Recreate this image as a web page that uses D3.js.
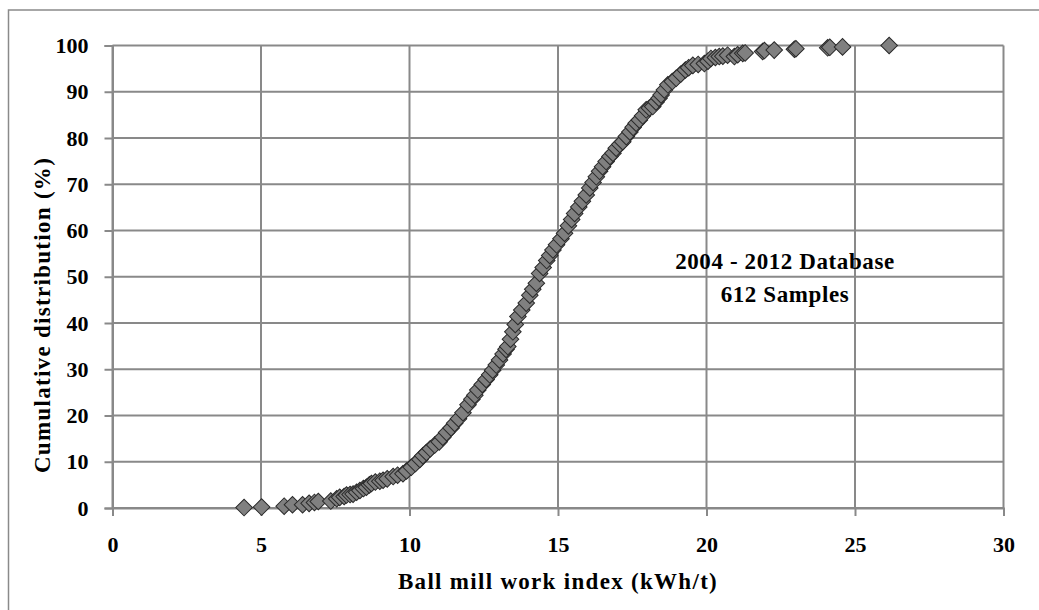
<!DOCTYPE html>
<html>
<head>
<meta charset="UTF-8">
<title>Ball mill work index cumulative distribution</title>
<script src="https://cdnjs.cloudflare.com/ajax/libs/d3/7.9.0/d3.min.js"></script>
<style>
    body { margin: 0; background: #fff; }
    svg { display: block; }
    text { font-family: "Liberation Serif", "DejaVu Serif", serif; font-weight: bold; fill: #000; }
</style>
</head>
<body>
<div id="chart"></div>
<script>
// values (work index kWh/t, cumulative %)
const workIndex = [
    4.43, 5.02, 5.78, 6.06, 6.40, 6.62, 6.80, 6.93, 7.35, 7.55,
    7.65, 7.80, 7.88, 8.00, 8.10, 8.22, 8.33, 8.45, 8.55, 8.65,
    8.72, 8.85, 9.00, 9.11, 9.25, 9.45, 9.60, 9.78, 9.90, 10.06,
    10.20, 10.35, 10.45, 10.57, 10.70, 10.85, 11.00, 11.12, 11.25, 11.40,
    11.52, 11.65, 11.80, 11.97, 12.10, 12.20, 12.30, 12.45, 12.58, 12.70,
    12.80, 12.92, 13.03, 13.15, 13.25, 13.31, 13.40, 13.48, 13.56, 13.65,
    13.78, 13.93, 14.05, 14.15, 14.27, 14.38, 14.50, 14.62, 14.72, 14.83,
    14.95, 15.10, 15.22, 15.35, 15.46, 15.56, 15.70, 15.82, 15.95, 16.07,
    16.18, 16.29, 16.40, 16.50, 16.62, 16.75, 16.85, 16.96, 17.08, 17.18,
    17.30, 17.42, 17.53, 17.63, 17.74, 17.85, 17.97, 18.08, 18.19, 18.30,
    18.40, 18.47, 18.58, 18.70, 18.85, 18.98, 19.13, 19.29, 19.40, 19.54,
    19.72, 19.93, 20.05, 20.15, 20.30, 20.43, 20.55, 20.71, 20.94, 21.05,
    21.22, 21.30, 21.89, 21.95, 22.28, 22.96, 23.01, 24.08, 24.15, 24.58,
    26.15
];
const cumulative = [
    0.1, 0.2, 0.4, 0.7, 0.7, 1.0, 1.2, 1.4, 1.5, 2.0,
    2.3, 2.5, 2.8, 2.9, 3.0, 3.4, 3.8, 4.2, 4.5, 5.0,
    5.3, 5.6, 5.8, 6.0, 6.3, 6.8, 7.1, 7.4, 8.0, 8.8,
    9.6, 10.5, 11.3, 12.0, 12.8, 13.6, 14.3, 15.3, 16.3, 17.3,
    18.3, 19.3, 20.6, 22.3, 23.5, 24.4, 25.5, 26.7, 27.8, 28.8,
    29.8, 30.9, 32.0, 33.3, 34.3, 34.9, 36.5, 38.1, 39.7, 41.4,
    42.8, 44.3, 46.0, 47.3, 48.6, 50.7, 52.0, 53.5, 54.6, 55.8,
    56.9, 58.2, 59.4, 61.0, 62.4, 63.7, 65.1, 66.3, 67.7, 69.2,
    70.4, 71.6, 72.8, 73.8, 74.9, 76.0, 76.7, 77.8, 78.6, 79.2,
    80.3, 81.3, 82.3, 83.2, 83.9, 84.8, 86.1, 86.5, 86.8, 87.8,
    88.6, 89.3, 90.4, 91.5, 92.2, 92.9, 93.8, 94.7, 95.2, 95.7,
    95.9, 96.1, 96.6, 97.2, 97.4, 97.6, 97.7, 97.9, 97.6, 98.0,
    98.3, 98.4, 98.7, 98.9, 99.0, 99.2, 99.3, 99.5, 99.6, 99.7,
    100.0
];
const xTicks = [0, 5, 10, 15, 20, 25, 30];
const yTicks = [0, 10, 20, 30, 40, 50, 60, 70, 80, 90, 100];
const xTitle = "Ball mill work index (kWh/t)";
const yTitle = "Cumulative distribution (%)";
const noteLines = ["2004 - 2012 Database", "612 Samples"];

const W = 1039, H = 610;
const plot = {left: 112.5, right: 1003.5, top: 45.5, bottom: 508};
const gridColor = "#898989";

const svg = d3.select("#chart").append("svg")
    .attr("width", W)
    .attr("height", H);

// outer chart frame
svg.append("rect")
    .attr("x", 8.5).attr("y", 10)
    .attr("width", W + 10).attr("height", H + 10)
    .attr("fill", "none")
    .attr("stroke", "#8a8a8a")
    .attr("stroke-width", 1.5);

const x = d3.scaleLinear().domain([0, 30]).range([plot.left, plot.right]);
const y = d3.scaleLinear().domain([0, 100]).range([plot.bottom, plot.top]);

// gridlines
svg.append("g")
    .selectAll("line")
    .data(yTicks)
    .join("line")
        .attr("x1", plot.left).attr("x2", plot.right)
        .attr("y1", d => y(d)).attr("y2", d => y(d))
        .attr("stroke", gridColor).attr("stroke-width", 2);

svg.append("g")
    .selectAll("line")
    .data(xTicks)
    .join("line")
        .attr("x1", d => x(d)).attr("x2", d => x(d))
        .attr("y1", plot.top).attr("y2", plot.bottom)
        .attr("stroke", gridColor).attr("stroke-width", 2);

// axes (outside ticks, labels)
const xAxis = d3.axisBottom(x).tickValues(xTicks).tickSize(8).tickPadding(20).tickFormat(d3.format("d"));
const yAxis = d3.axisLeft(y).tickValues(yTicks).tickSize(8).tickPadding(16).tickFormat(d3.format("d"));

const gx = svg.append("g")
    .attr("transform", `translate(0,${plot.bottom})`)
    .call(xAxis);
const gy = svg.append("g")
    .attr("transform", `translate(${plot.left},0)`)
    .call(yAxis);

[gx, gy].forEach(g => {
    g.select(".domain").attr("stroke", gridColor).attr("stroke-width", 2);
    g.selectAll(".tick line").attr("stroke", gridColor).attr("stroke-width", 2);
    g.selectAll(".tick text")
        .attr("font-family", "Liberation Serif, DejaVu Serif, serif")
        .attr("font-weight", "bold")
        .attr("font-size", 22)
        .attr("fill", "#000");
});
gx.selectAll(".tick text").attr("dy", "0.71em");

// axis titles
svg.append("text")
    .attr("x", (plot.left + plot.right) / 2)
    .attr("y", 589)
    .attr("text-anchor", "middle")
    .attr("font-size", 23)
    .attr("letter-spacing", 1.3)
    .text(xTitle);

svg.append("text")
    .attr("transform", "translate(50,315) rotate(-90)")
    .attr("text-anchor", "middle")
    .attr("font-size", 23)
    .attr("letter-spacing", 1.3)
    .text(yTitle);

// annotation
svg.append("g")
    .selectAll("text")
    .data(noteLines)
    .join("text")
        .attr("x", 785)
        .attr("y", (d, i) => 269 + i * 32.5)
        .attr("text-anchor", "middle")
        .attr("font-size", 23)
        .attr("letter-spacing", 0.6)
        .text(d => d);

// scatter markers (diamonds)
const pts = workIndex.map((v, i) => ({x: v, y: cumulative[i]}));
const diamond = d3.symbol().type(d3.symbolSquare).size(138);

svg.append("g")
    .selectAll("path")
    .data(pts)
    .join("path")
        .attr("d", diamond)
        .attr("transform", d => `translate(${x(d.x)},${y(d.y)}) rotate(45)`)
        .attr("fill", "#808080")
        .attr("stroke", "#2a2a2a")
        .attr("stroke-width", 1);
</script>
</body>
</html>
